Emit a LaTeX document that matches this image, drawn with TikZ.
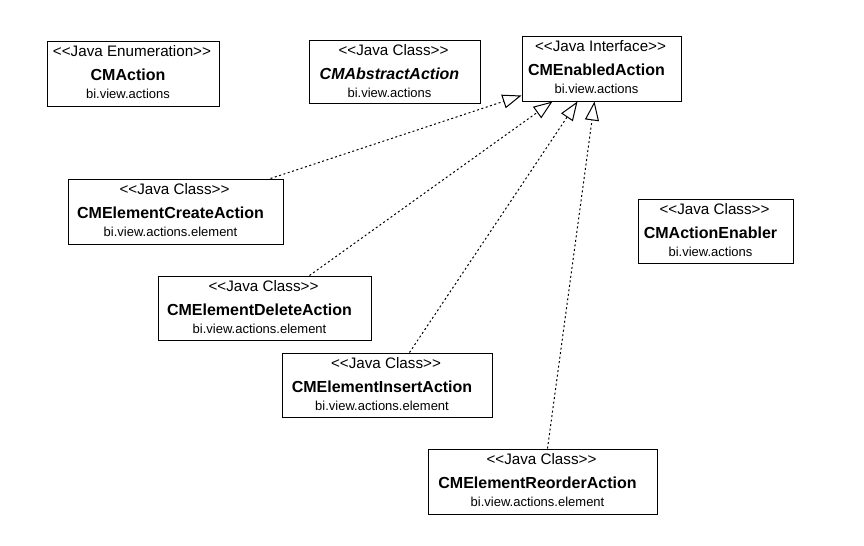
\documentclass[tikz,border=0pt]{standalone}
\usepackage{fontspec}
\setmainfont{Liberation Sans}
\usetikzlibrary{arrows.meta,calc}
\tikzset{
  umlbox/.style={draw=black, line width=0.75pt, fill=white, inner sep=0pt, rectangle},
  stereotxt/.style={anchor=base, inner sep=0pt, font=\fontsize{11.4}{13}\selectfont},
  titletxt/.style={anchor=base, inner sep=0pt, font=\fontsize{12}{14}\selectfont\bfseries},
  pkgtxt/.style={anchor=base, inner sep=0pt, font=\fontsize{9.75}{12}\selectfont},
  realize/.style={line width=0.75pt, dash pattern=on 1.5pt off 1.9pt,
    -{Triangle[open, length=14.25pt, width=10.5pt, line width=0.75pt]}}
}
% #1 name, #2 x1, #3 y1, #4 x2, #5 y2, #6 stereotype, #7 title, #8 package
\newcommand\umlclassbox[8]{%
  \node[umlbox, minimum width={(#4-#2)*0.75pt}, minimum height={(#5-#3)*0.75pt}]
    (#1) at ({(#2+#4)/2},{(#3+#5)/2}) {};
  \node[stereotxt] (#1-s) at ($(#1.north)+(-1,16)$) {#6};
  \node[titletxt] (#1-t) at ($(#1.north)+(-5,40)$) {#7};
  \node[pkgtxt] (#1-p) at ($(#1.north)+(-5,58)$) {#8};
}
\begin{document}
\begin{tikzpicture}[x=0.75pt, y=-0.75pt]
\useasboundingbox[fill=white] (0,0) rectangle (864,546);

\umlclassbox{cmaction}{47}{41}{219}{106}{<{}<Java Enumeration>{}>}{CMAction}{bi.view.actions}
\umlclassbox{abstract}{309}{40}{480}{103}{<{}<Java Class>{}>}{\itshape CMAbstractAction}{bi.view.actions}
\umlclassbox{enabled}{522}{36}{681}{101}{<{}<Java Interface>{}>}{CMEnabledAction}{bi.view.actions}
\umlclassbox{create}{68}{179}{283}{244}{<{}<Java Class>{}>}{CMElementCreateAction}{bi.view.actions.element}
\umlclassbox{enabler}{638}{199}{793}{263}{<{}<Java Class>{}>}{CMActionEnabler}{bi.view.actions}
\umlclassbox{delete}{158}{276}{371}{340}{<{}<Java Class>{}>}{CMElementDeleteAction}{bi.view.actions.element}
\umlclassbox{insert}{282}{353}{492}{417}{<{}<Java Class>{}>}{CMElementInsertAction}{bi.view.actions.element}
\umlclassbox{reorder}{428}{449}{657}{514}{<{}<Java Class>{}>}{CMElementReorderAction}{bi.view.actions.element}

\draw[realize] ($(create.north east)+(-13,0)$) -- ($(enabled.south west)+(0,-6)$);
\draw[realize] ($(delete.north west)+(152,0)$) -- ($(enabled.south west)+(31,0)$);
\draw[realize] ($(insert.north west)+(128,0)$) -- ($(enabled.south west)+(56,0)$);
\draw[realize] ($(reorder.north west)+(120,0)$) -- ($(enabled.south west)+(73,0)$);
\end{tikzpicture}
\end{document}
